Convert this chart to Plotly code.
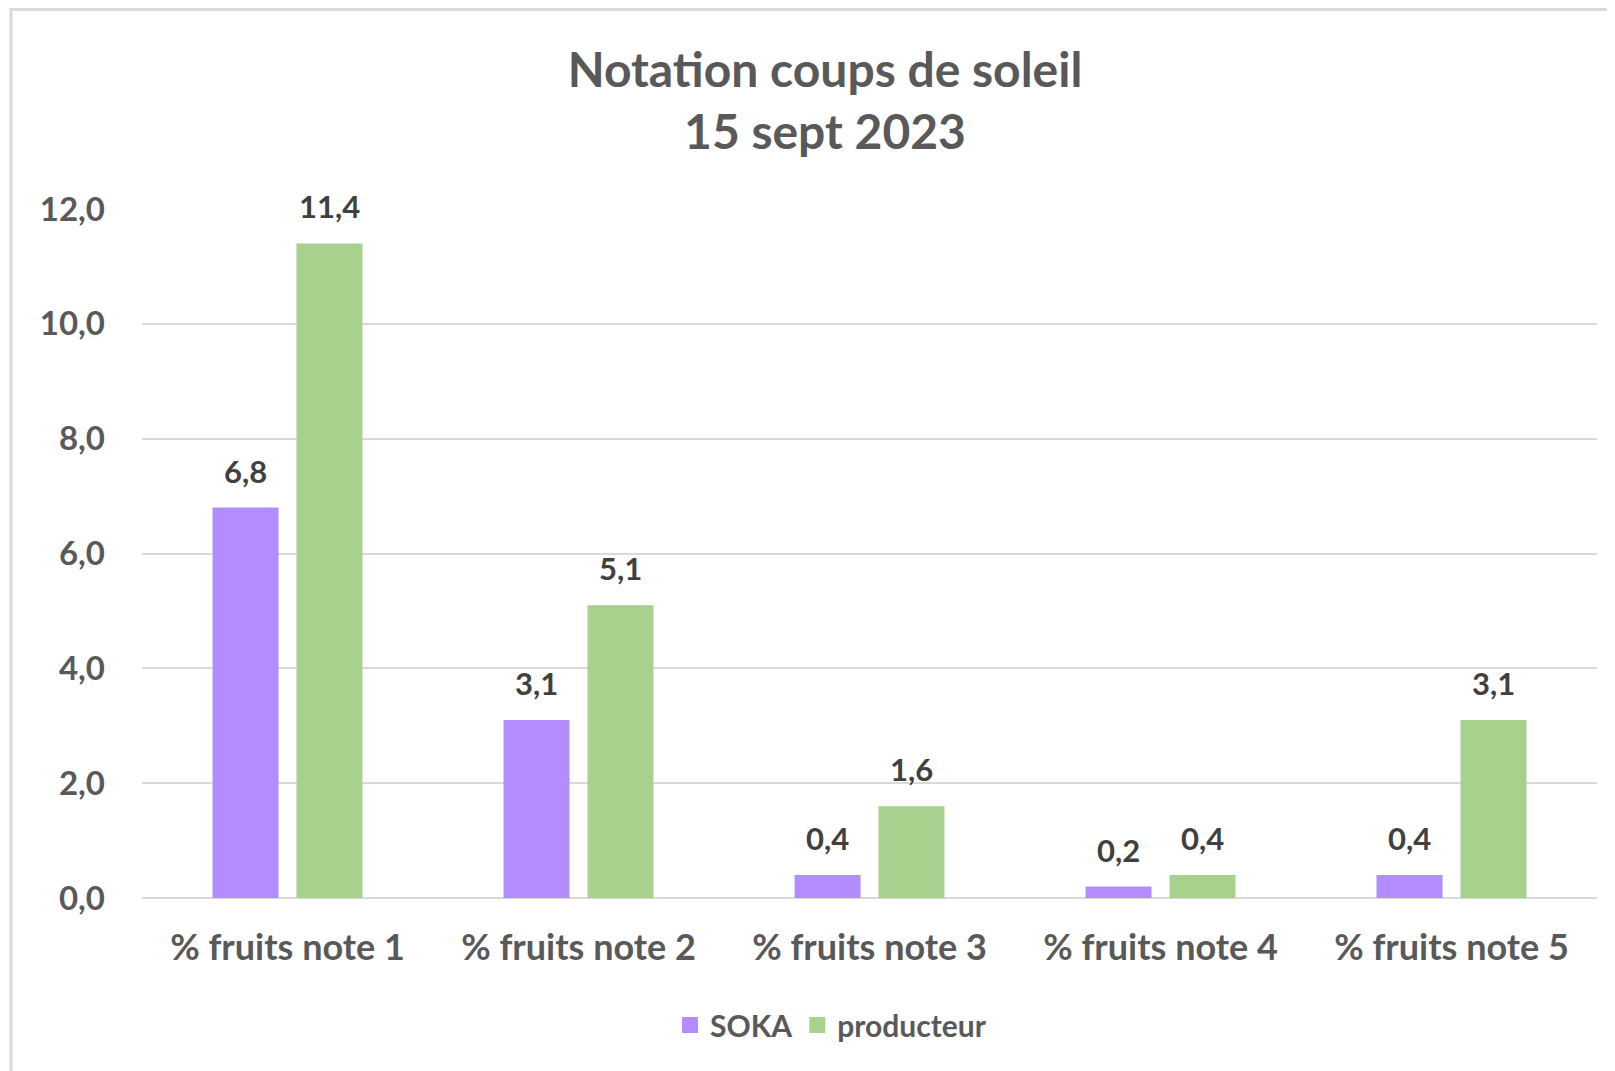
import plotly.graph_objects as go

categories = ["% fruits note 1", "% fruits note 2", "% fruits note 3", "% fruits note 4", "% fruits note 5"]
soka = [6.8, 3.1, 0.4, 0.2, 0.4]
producteur = [11.4, 5.1, 1.6, 0.4, 3.1]
series_names = ["SOKA", "producteur"]
colors = ["#B38CFF", "#A9D18E"]
y_ticks = [0, 2, 4, 6, 8, 10, 12]

FONT = "Lato"
TXT = "#595959"
W, H = 1615, 1071
OFF = 8  # page body margin
L, T = 142 - OFF, 209 - OFF
plot_w, plot_h = 1455, 689
R, B = W - L - plot_w, H - T - plot_h
BARGAP = 0.423
GROUPGAP = 0.214

fig = go.Figure()
for name, vals, col in zip(series_names, [soka, producteur], colors):
    fig.add_trace(go.Bar(
        x=categories, y=vals, name=name, showlegend=False,
        marker=dict(color=col, line=dict(width=0)),
    ))
# legend entries with larger square swatches
for name, col in zip(series_names, colors):
    fig.add_trace(go.Scatter(
        x=[None], y=[None], name=name, mode="markers",
        marker=dict(symbol="square", size=16, color=col),
    ))

# data labels
cat_w = plot_w / len(categories)
slot = (1 - BARGAP) * cat_w / 2
for i, vals in enumerate([soka, producteur]):
    for c, v in zip(categories, vals):
        fig.add_annotation(
            x=c, y=v, xref="x", yref="y",
            text=f"<b>{v:.1f}</b>".replace(".", ","),
            showarrow=False, xshift=(i - 0.5) * slot, yshift=16,
            yanchor="bottom", font=dict(family=FONT, size=31, color="#404040"),
        )

fig.update_layout(
    width=W, height=H,
    margin=dict(l=L, r=R, t=T, b=B, autoexpand=False),
    paper_bgcolor="white", plot_bgcolor="white",
    barmode="group", bargap=BARGAP, bargroupgap=GROUPGAP,
    separators=", ",
    font=dict(family=FONT, color=TXT),
    title=dict(
        text="<b>Notation coups de soleil<br>15 sept 2023</b>",
        x=(825 - 142) / plot_w, xref="paper", xanchor="center",
        y=1 - (87 - OFF) / H, yref="container", yanchor="middle",
        font=dict(family=FONT, size=48, color=TXT),
    ),
    legend=dict(
        orientation="h", x=(831 - 142) / plot_w, xanchor="center",
        y=(898 - 1025) / plot_h, yanchor="middle",
        font=dict(family=FONT, size=30, color=TXT, weight="bold"),
        itemwidth=30, traceorder="normal",
    ),
    xaxis=dict(
        showgrid=False, showline=False, zeroline=False,
        tickfont=dict(family=FONT, size=36, color=TXT, weight="bold"),
        ticklabelstandoff=25, ticks="",
    ),
    yaxis=dict(
        range=[0, 12], tickvals=y_ticks, tickformat=".1f",
        showgrid=True, gridcolor="#D9D9D9", gridwidth=2,
        zeroline=True, zerolinecolor="#D9D9D9", zerolinewidth=2,
        showline=False, ticks="",
        tickfont=dict(family=FONT, size=33, color=TXT, weight="bold"),
        ticklabelstandoff=36,
    ),
    shapes=[dict(
        type="rect", xref="paper", yref="paper",
        x0=(11 - 142) / plot_w, x1=(W + 40 - 142) / plot_w,
        y0=(898 - (H + 40)) / plot_h, y1=1 + (T - 1.5) / plot_h,
        line=dict(color="#D9D9D9", width=3), fillcolor="rgba(0,0,0,0)",
        layer="below",
    )],
)

fig.write_html("out.html")
